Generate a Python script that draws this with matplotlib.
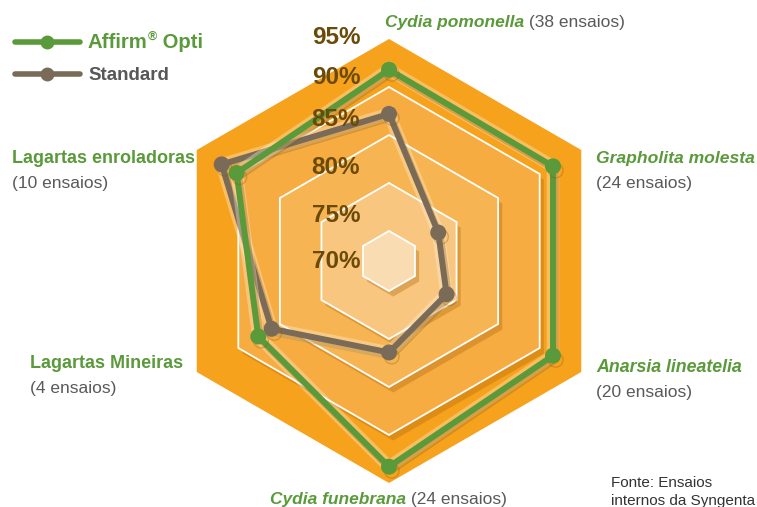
import numpy as np
import matplotlib
matplotlib.use("Agg")
import matplotlib.pyplot as plt
import matplotlib.patheffects as pe
from matplotlib.text import Annotation

# ---------------- data ----------------
categories = ["Cydia pomonella", "Grapholita molesta", "Anarsia lineatelia",
              "Cydia funebrana", "Lagartas Mineiras", "Lagartas enroladoras"]
trials = ["(38 ensaios)", "(24 ensaios)", "(20 ensaios)",
          "(24 ensaios)", "(4 ensaios)", "(10 ensaios)"]
affirm = [91.8, 91.6, 91.6, 93.3, 87.6, 90.2]
standard = [87.2, 77.8, 78.8, 81.4, 86.0, 92.0]
ring_values = [95, 90, 85, 80, 75]
tick_labels = ["95%", "90%", "85%", "80%", "75%", "70%"]
series_names = ["Affirm", "Standard"]

# ---------------- style ----------------
W, H = 757, 507
GREEN = "#5A9A3A"
BROWN = "#7A6B59"
GRAY_TXT = "#5A5A5C"
TICK_TXT = "#6B4A08"
ring_colors = ["#F6A21D", "#F6AC41", "#F6B552", "#F8C67F", "#FADCB3"]
FONT = ["Liberation Sans", "DejaVu Sans"]
plt.rcParams["font.family"] = FONT

fig = plt.figure(figsize=(W / 100, H / 100), dpi=100)
fig.patch.set_facecolor("white")

def fx(x):
    return x / W

def fy(y):
    return 1 - y / H

# polar axes centred on the hexagon
cx, cy, R = 389, 261, 240
px_per_pct = 9.6
v0 = 75 - 30 / px_per_pct
ax = fig.add_axes([fx(cx - R), fy(cy + R), 2 * R / W, 2 * R / H], projection="polar")
ax.set_theta_offset(np.pi / 2)
ax.set_theta_direction(-1)
ax.set_ylim(v0, v0 + R / px_per_pct)
ax.axis("off")

n = len(categories)
theta = np.arange(n) * 2 * np.pi / n
theta_c = np.append(theta, theta[0])

# hexagon rings
shadow = [pe.SimplePatchShadow(offset=(3, -4), shadow_rgbFace="#B0660A", alpha=0.35),
          pe.Normal()]
for i, (rv, col) in enumerate(zip(ring_values, ring_colors)):
    poly = ax.fill(theta_c, [rv] * (n + 1), facecolor=col,
                   edgecolor="white" if i > 0 else col,
                   linewidth=1.3 if i > 0 else 0, zorder=1 + i)[0]
    if i > 0:
        poly.set_path_effects(shadow)

line_fx = [pe.Stroke(linewidth=9, foreground="#FFF3DC", alpha=0.35),
           pe.SimpleLineShadow(offset=(2, -3), shadow_color="#8A5A10", alpha=0.3),
           pe.Normal()]
mark_fx = [pe.SimpleLineShadow(offset=(2, -3), shadow_color="#8A5A10", alpha=0.3),
           pe.Normal()]

for vals, col, z in [(standard, BROWN, 10), (affirm, GREEN, 12)]:
    ln, = ax.plot(theta_c, vals + vals[:1], color=col, lw=4.3, zorder=z,
                  solid_joinstyle="round")
    ln.set_path_effects(line_fx)
    mk, = ax.plot(theta, vals, color=col, lw=0, marker="o", ms=10.5, zorder=z + 1)
    mk.set_path_effects(mark_fx)

# percentage labels
tick_y = [37, 77, 120, 167, 215, 262]
for lab, y in zip(tick_labels, tick_y):
    fig.text(fx(336), fy(y), lab, ha="center", va="center", fontsize=17.5,
             fontweight="bold", color=TICK_TXT, zorder=20)

# legend
for (name, col, tcol, y, reg, fs) in [(series_names[0], GREEN, GREEN, 42, True, 14.6),
                                      (series_names[1], BROWN, "#58585A", 74, False, 13.5)]:
    fig.add_artist(plt.Line2D([fx(15), fx(80)], [fy(y), fy(y)], color=col, lw=4,
                              solid_capstyle="round", transform=fig.transFigure))
    fig.add_artist(plt.Line2D([fx(47)], [fy(y)], color=col, marker="o", ms=9,
                              transform=fig.transFigure))
    t = fig.text(fx(88), fy(y + 6), name, ha="left", va="baseline", fontsize=fs,
                 fontweight="bold", color=tcol)
    if reg:
        r = Annotation("\u00ae", xy=(1, fy(y - 2)), xycoords=(t, "figure fraction"),
                       ha="left", va="baseline", fontsize=9, fontweight="bold", color=tcol)
        fig.add_artist(r)
        o = Annotation(" Opti", xy=(1, fy(y + 6)), xycoords=(r, "figure fraction"),
                       ha="left", va="baseline", fontsize=fs, fontweight="bold", color=tcol)
        fig.add_artist(o)

# category labels
def two_part(x, y, name, tr, fs=12.5):
    t1 = fig.text(fx(x), fy(y), name, ha="left", va="baseline", fontsize=fs,
                  fontweight="bold", fontstyle="italic", color=GREEN)
    a = Annotation(" " + tr, xy=(1, fy(y)), xycoords=(t1, "figure fraction"),
                   ha="left", va="baseline", fontsize=fs, color=GRAY_TXT)
    fig.add_artist(a)

def stacked(x, y, name, tr, italic=True, fs=12.5):
    fig.text(fx(x), fy(y), name, ha="left", va="baseline", fontsize=fs,
             fontweight="bold", fontstyle="italic" if italic else "normal", color=GREEN)
    fig.text(fx(x), fy(y + 25), tr, ha="left", va="baseline", fontsize=12.5, color=GRAY_TXT)

two_part(385, 27, categories[0], trials[0])
stacked(596, 163, categories[1], trials[1], fs=12.6)
stacked(596, 372, categories[2], trials[2], fs=12.8)
two_part(270, 504, categories[3], trials[3])
stacked(30, 368, categories[4], trials[4], italic=False, fs=13)
stacked(12, 163, categories[5], trials[5], italic=False, fs=13)

fig.text(fx(611), fy(487), "Fonte: Ensaios", ha="left", va="baseline",
         fontsize=11, color="#333333")
fig.text(fx(611), fy(505), "internos da Syngenta", ha="left", va="baseline",
         fontsize=11, color="#333333")

fig.savefig("out.png", dpi=100)
